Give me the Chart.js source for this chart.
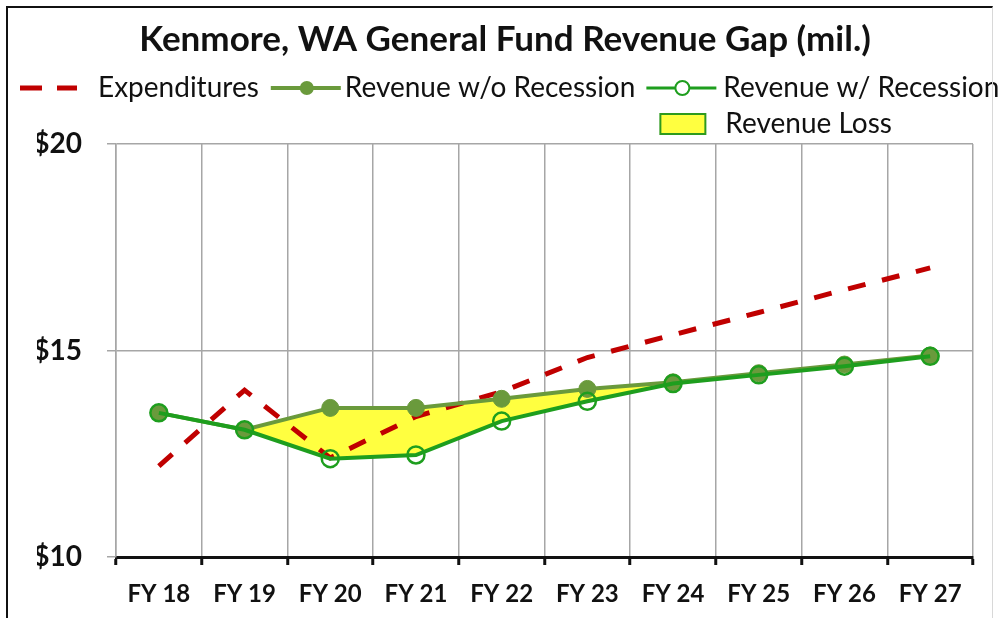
<!DOCTYPE html>
<html>
<head>
<meta charset="utf-8">
<script src="https://cdn.jsdelivr.net/npm/chart.js@4/dist/chart.umd.min.js"></script>
<style>
    html, body { margin: 0; padding: 0; background: #fff; overflow: hidden; }
    #wrap { position: relative; width: 998px; height: 618px; }
    #frame { position: absolute; left: 6px; top: 6px; width: 984px; height: 700px;
             border-left: 2px solid #111; border-top: 2px solid #111; border-right: 1px solid #d8d8d8;
             pointer-events: none; }
</style>
</head>
<body>
<div id="wrap">
    <canvas id="myChart" width="998" height="618"></canvas>
    <div id="frame"></div>
</div>
<script>

var years = ['FY 18', 'FY 19', 'FY 20', 'FY 21', 'FY 22', 'FY 23', 'FY 24', 'FY 25', 'FY 26', 'FY 27']
var expenditures = [12.2, 14.04, 12.4, 13.4, 14.0, 14.83, 15.38, 15.92, 16.47, 17.0]
var revenueNoRecession = [13.49, 13.08, 13.61, 13.61, 13.83, 14.07, 14.23, 14.45, 14.66, 14.88]
var revenueRecession = [13.49, 13.08, 12.38, 12.47, 13.29, 13.77, 14.2, 14.41, 14.62, 14.86]
var yTicks = [10, 15, 20]

var red = '#C00000'
var olive = '#6A9A3C'
var green = '#1E9E1E'
var yellow = '#FFFF40'
var fontName = 'Lato'

// legend is drawn by hand so it can sit like the excel one
var legendPlugin = {
    id: 'excelLegend',
    afterDraw: (chart) => {
        var ctx = chart.ctx
        var ds = chart.data.datasets
        ctx.save()
        ctx.font = `28px ${fontName}`
        ctx.fillStyle = '#111'
        ctx.textBaseline = 'middle'
        ctx.textAlign = 'left'
        var y1 = 88
        var x = 20

        // Expenditures
        ctx.strokeStyle = red
        ctx.lineWidth = 5
        ctx.setLineDash([22, 15])
        ctx.beginPath(); ctx.moveTo(x, y1); ctx.lineTo(x + 57, y1); ctx.stroke()
        ctx.setLineDash([])
        x += 78
        ctx.fillText(ds[0].label, x, y1)
        x += ctx.measureText(ds[0].label).width + 12

        // Revenue w/o Recession
        ctx.strokeStyle = olive
        ctx.lineWidth = 4
        ctx.beginPath(); ctx.moveTo(x, y1); ctx.lineTo(x + 70, y1); ctx.stroke()
        ctx.fillStyle = olive
        ctx.beginPath(); ctx.arc(x + 36, y1, 7, 0, Math.PI * 2); ctx.fill()
        ctx.fillStyle = '#111'
        x += 74
        ctx.fillText(ds[1].label, x, y1)
        x += ctx.measureText(ds[1].label).width + 11

        // Revenue w/ Recession
        var x3 = x
        ctx.strokeStyle = green
        ctx.lineWidth = 3
        ctx.beginPath(); ctx.moveTo(x, y1); ctx.lineTo(x + 70, y1); ctx.stroke()
        ctx.fillStyle = '#fff'
        ctx.lineWidth = 2
        ctx.beginPath(); ctx.arc(x + 36, y1, 7, 0, Math.PI * 2); ctx.fill(); ctx.stroke()
        ctx.fillStyle = '#111'
        x += 77
        ctx.fillText(ds[2].label, x, y1)

        // Revenue Loss, second row under the third item
        var y2 = 124
        ctx.fillStyle = yellow
        ctx.strokeStyle = '#2E9A1E'
        ctx.lineWidth = 2
        ctx.fillRect(x3 + 14, y2 - 10, 45, 20)
        ctx.strokeRect(x3 + 14, y2 - 10, 45, 20)
        ctx.fillStyle = '#111'
        ctx.fillText(ds[3].label, x3 + 79, y2)
        ctx.restore()
    }
}

const ctx = document.getElementById('myChart')

var myChart = new Chart(ctx, {
    type: 'line',
    data: {
        labels: years,
        datasets: [
            {
                label: 'Expenditures',
                data: expenditures,
                borderColor: red,
                borderWidth: 5,
                borderDash: [18, 17],
                borderCapStyle: 'butt',
                pointRadius: 0,
                fill: false,
                order: 3
            },
            {
                label: 'Revenue w/o Recession',
                data: revenueNoRecession,
                borderColor: olive,
                borderWidth: 4,
                pointRadius: 8.5,
                pointBackgroundColor: olive,
                pointBorderColor: olive,
                pointBorderWidth: 1,
                fill: false,
                order: 2
            },
            {
                label: 'Revenue w/ Recession',
                data: revenueRecession,
                borderColor: green,
                borderWidth: 4,
                pointRadius: 8.5,
                pointBackgroundColor: 'rgba(0,0,0,0)',
                pointBorderColor: green,
                pointBorderWidth: 2.5,
                fill: false,
                order: 1
            },
            {
                label: 'Revenue Loss',
                data: revenueNoRecession,
                borderWidth: 0,
                borderColor: 'rgba(0,0,0,0)',
                backgroundColor: yellow,
                pointRadius: 0,
                fill: 2,
                order: 4
            }
        ]
    },
    options: {
        responsive: false,
        animation: false,
        layout: { padding: { left: 37, right: 25, top: 0, bottom: 0 } },
        plugins: {
            legend: { display: false },
            tooltip: { enabled: false },
            title: {
                display: true,
                text: 'Kenmore, WA General Fund Revenue Gap (mil.)',
                color: '#111',
                font: { family: fontName, size: 35, weight: 'bold', lineHeight: 1.2 },
                padding: { top: 19, bottom: 83 }
            }
        },
        scales: {
            x: {
                offset: true,
                grid: {
                    offset: true,
                    color: '#A6A6A6',
                    lineWidth: 1.5,
                    tickLength: 8,
                    tickColor: '#111',
                    tickWidth: 3
                },
                border: { color: '#111', width: 3 },
                ticks: {
                    color: '#111',
                    padding: 15,
                    font: { family: fontName, size: 24, weight: 'bold' }
                },
                afterFit: (scale) => { scale.height = 61 }
            },
            y: {
                min: 10,
                max: 20,
                afterBuildTicks: (scale) => { scale.ticks = yTicks.map(v => ({ value: v })) },
                grid: { color: '#A6A6A6', lineWidth: 1.5, tickLength: 9 },
                border: { color: '#A6A6A6', width: 1.5 },
                ticks: {
                    color: '#111',
                    padding: 25,
                    font: { family: fontName, size: 28, weight: 'bold' },
                    callback: (v) => '$' + v
                },
                afterFit: (scale) => { scale.width = 79 }
            }
        }
    },
    plugins: [legendPlugin]
});

</script>
</body>
</html>
